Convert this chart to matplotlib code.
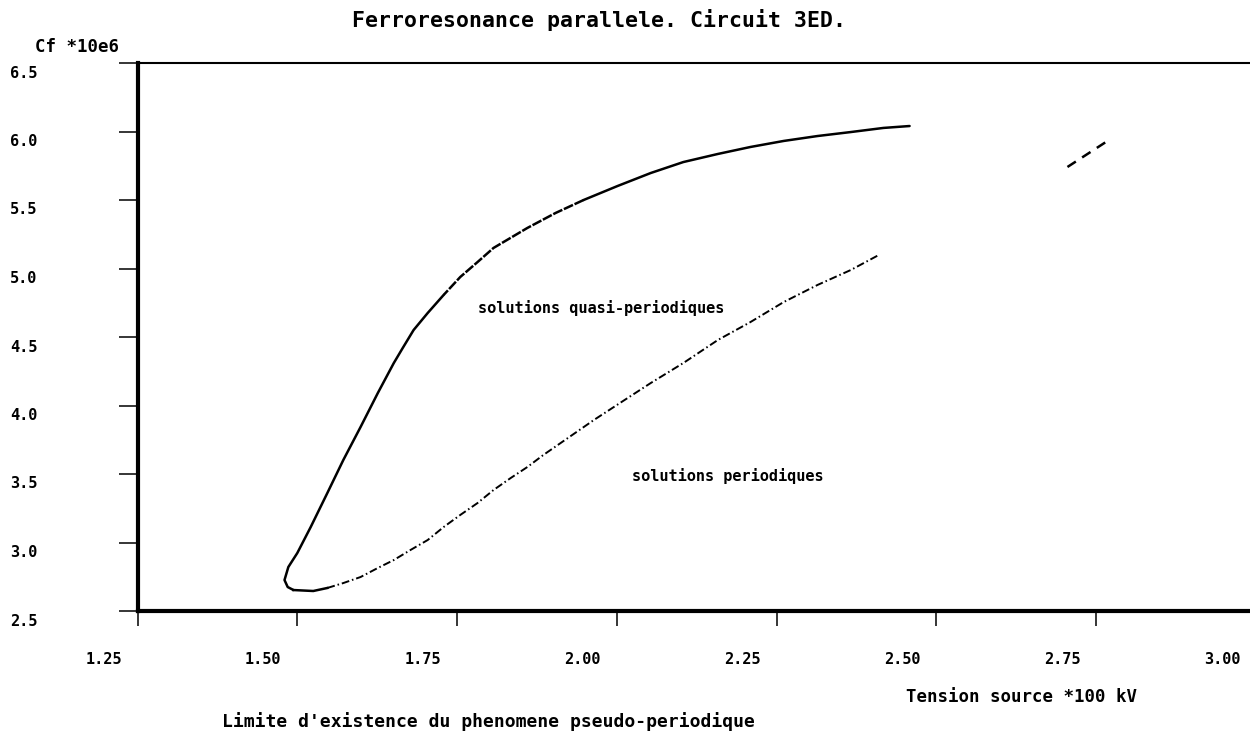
import matplotlib.pyplot as plt
import matplotlib.transforms as mtransforms

# Branche haute : de l'extremite droite vers la pointe (tension *100 kV, Cf *10e6)
haut_x = [2.458, 2.417, 2.366, 2.314, 2.261, 2.209, 2.158, 2.104, 2.053, 2.001,
          1.948, 1.904, 1.860, 1.807, 1.782, 1.755, 1.729, 1.704, 1.682, 1.665,
          1.651, 1.626, 1.599, 1.572, 1.547, 1.521, 1.500, 1.486, 1.480, 1.485,
          1.494]
haut_y = [6.040, 6.026, 5.996, 5.967, 5.931, 5.887, 5.836, 5.777, 5.697, 5.602,
          5.500, 5.405, 5.296, 5.150, 5.047, 4.938, 4.807, 4.675, 4.551, 4.420,
          4.310, 4.091, 3.843, 3.602, 3.361, 3.113, 2.923, 2.821, 2.726, 2.675,
          2.653]

# Branche basse : de la pointe vers la droite
bas_x = [1.494, 1.525, 1.547, 1.572, 1.599, 1.626, 1.651, 1.677, 1.704, 1.729,
         1.755, 1.782, 1.807, 1.834, 1.860, 1.885, 1.912, 1.964, 2.017, 2.053,
         2.104, 2.158, 2.209, 2.261, 2.314, 2.366, 2.410]
bas_y = [2.653, 2.646, 2.668, 2.704, 2.748, 2.814, 2.872, 2.945, 3.018, 3.113,
         3.201, 3.288, 3.383, 3.471, 3.551, 3.639, 3.726, 3.894, 4.055, 4.164,
         4.310, 4.478, 4.609, 4.755, 4.880, 4.989, 5.099]

# petit morceau isole en haut a droite
isole_x = [2.705, 2.770]
isole_y = [5.741, 5.938]

xticks = [1.25, 1.50, 1.75, 2.00, 2.25, 2.50, 2.75, 3.00]
xtick_labels = ['1.25', '1.50', '1.75', '2.00', '2.25', '2.50', '2.75', '3.00']
yticks = [2.5, 3.0, 3.5, 4.0, 4.5, 5.0, 5.5, 6.0, 6.5]
ytick_labels = ['2.5', '3.0', '3.5', '4.0', '4.5', '5.0', '5.5', '6.0', '6.5']

W, H = 1250, 734
police = dict(family='DejaVu Sans Mono', fontweight='bold', color='black')

fig = plt.figure(figsize=(W / 100, H / 100), dpi=100)
fig.patch.set_facecolor('white')
ax = fig.add_axes([137.5 / W, (H - 611) / H, (1256 - 137.5) / W, (611 - 63) / H])
ax.set_xlim(1.25, 3.0)
ax.set_ylim(2.5, 6.5)

# courbe limite
ax.plot(haut_x[:11], haut_y[:11], color='black', lw=1.8, solid_capstyle='round')
ax.plot(haut_x[10:17], haut_y[10:17], color='black', lw=1.8, linestyle=(0, (4, 0.7)))
ax.plot(haut_x[16:], haut_y[16:], color='black', lw=1.8, solid_capstyle='round',
        solid_joinstyle='round')
ax.plot(bas_x[:3], bas_y[:3], color='black', lw=1.8)
ax.plot(bas_x[2:], bas_y[2:], color='black', lw=1.4, linestyle=(0, (4, 1.5, 0.8, 1.5)))
ax.plot(isole_x, isole_y, color='black', lw=1.8, linestyle=(0, (4, 3)))

# axes facon traceur
ax.spines['right'].set_visible(False)
ax.spines['top'].set_linewidth(1.5)
ax.spines['left'].set_linewidth(3)
ax.spines['bottom'].set_linewidth(3)
ax.set_xticks(xticks[:-1])
ax.set_yticks(yticks)
ax.tick_params(axis='y', direction='out', length=14, width=1.1,
               labelleft=False)
ax.tick_params(axis='x', direction='out', length=11, width=1.1,
               labelbottom=False)

# etiquettes decalees comme sur le trace d'origine
tr_x = (mtransforms.blended_transform_factory(ax.transData, ax.transAxes)
        + mtransforms.ScaledTranslation(-0.34, -0.49, fig.dpi_scale_trans))
for v, s in zip(xticks, xtick_labels):
    ax.text(v, 0, s, transform=tr_x, ha='center', va='center',
            fontsize=11, clip_on=False, **police)

tr_y = (mtransforms.blended_transform_factory(fig.transFigure, ax.transData)
        + mtransforms.ScaledTranslation(0, -0.10, fig.dpi_scale_trans))
for v, s in zip(yticks, ytick_labels):
    ax.text(10 / W, v, s, transform=tr_y, ha='left', va='center',
            fontsize=11, clip_on=False, **police)

fig.text(599 / W, 1 - 20 / H, 'Ferroresonance parallele. Circuit 3ED.',
         ha='center', va='center', fontsize=15.5, **police)
fig.text(35 / W, 1 - 47 / H, 'Cf *10e6', ha='left', va='center',
         fontsize=12.5, **police)
fig.text(478 / W, 1 - 308 / H, 'solutions quasi-periodiques', ha='left',
         va='center', fontsize=11, **police)
fig.text(632 / W, 1 - 476 / H, 'solutions periodiques', ha='left',
         va='center', fontsize=11, **police)
fig.text(906 / W, 1 - 697 / H, 'Tension source *100 kV', ha='left',
         va='center', fontsize=12.5, **police)
fig.text(488 / W, 1 - 722 / H,
         "Limite d'existence du phenomene pseudo-periodique",
         ha='center', va='center', fontsize=13, **police)

fig.savefig('out.png', dpi=100, facecolor='white')
